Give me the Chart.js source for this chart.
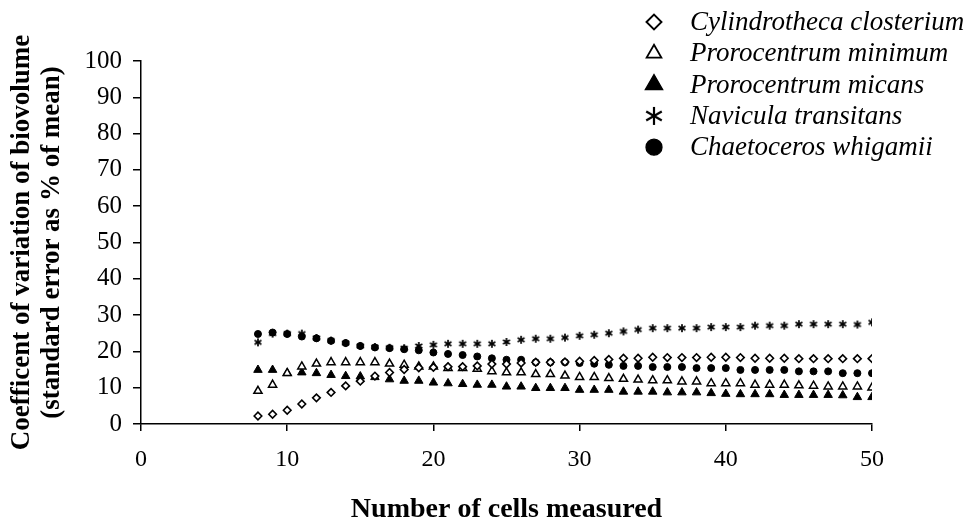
<!DOCTYPE html>
<html>
<head>
<meta charset="utf-8">
<script src="https://cdn.jsdelivr.net/npm/chart.js@4.4.1/dist/chart.umd.min.js"></script>
<style>
  html, body { margin: 0; padding: 0; background: #fff; }
  #wrap { width: 971px; height: 525px; }
</style>
</head>
<body>
<div id="wrap"><canvas id="grafico" width="971" height="525"></canvas></div>
<script>
// Numero de celulas medidas (eje x)
const cells = [8, 9, 10, 11, 12, 13, 14, 15, 16, 17, 18, 19, 20, 21, 22, 23, 24, 25, 26, 27, 28,
  29, 30, 31, 32, 33, 34, 35, 36, 37, 38, 39, 40, 41, 42, 43, 44, 45, 46, 47, 48, 49, 50];

const xTicks = [0, 10, 20, 30, 40, 50];
const yTicks = [0, 10, 20, 30, 40, 50, 60, 70, 80, 90, 100];

const cylindrotheca = [2.2, 2.7, 3.8, 5.5, 7.2, 8.7, 10.5, 11.8, 13.2, 14.2, 15.0, 15.5, 15.6, 15.8, 15.8,
  16.0, 16.5, 16.5, 16.8, 17.0, 17.0, 17.1, 17.3, 17.5, 17.8, 18.1, 18.1, 18.4, 18.3, 18.3, 18.3,
  18.4, 18.4, 18.3, 18.1, 18.1, 18.1, 18.0, 18.0, 18.0, 18.0, 18.0, 18.0];
const prorMinimum = [9.1, 10.8, 14.0, 15.8, 16.6, 17.0, 17.0, 17.0, 17.0, 16.6, 16.3, 15.8, 15.8, 15.4,
  15.4, 15.2, 14.5, 14.2, 14.2, 13.7, 13.7, 13.3, 12.9, 12.9, 12.6, 12.4, 12.2, 12.0, 12.0, 11.7,
  11.7, 11.2, 11.2, 11.2, 10.8, 10.8, 10.8, 10.6, 10.5, 10.3, 10.3, 10.3, 10.0];
const prorMicans = [14.9, 14.9, 14.0, 14.2, 14.0, 13.5, 13.2, 13.1, 12.9, 12.3, 11.9, 11.9, 11.4, 11.2,
  11.0, 10.8, 10.8, 10.3, 10.3, 9.9, 9.9, 9.9, 9.4, 9.4, 9.4, 8.9, 8.9, 8.9, 8.7, 8.7, 8.7, 8.5,
  8.3, 8.2, 8.2, 8.2, 8.0, 8.0, 8.0, 8.0, 7.9, 7.4, 7.4];
const navicula = [22.5, 24.9, 24.9, 24.9, 23.7, 23.0, 22.3, 21.5, 21.2, 21.0, 20.9, 21.5, 21.8, 22.1,
  22.1, 22.1, 22.1, 22.6, 23.2, 23.5, 23.5, 23.8, 24.3, 24.6, 25.0, 25.5, 26.0, 26.4, 26.4, 26.4,
  26.4, 26.7, 26.7, 26.7, 27.1, 27.1, 27.1, 27.5, 27.5, 27.5, 27.5, 27.4, 28.0];
const chaetoceros = [24.8, 25.2, 24.8, 24.1, 23.6, 22.9, 22.3, 21.5, 21.1, 20.9, 20.6, 20.3, 19.7, 19.3,
  19.0, 18.6, 18.1, 17.7, 17.7, 17.0, 17.0, 17.0, 16.8, 16.6, 16.3, 16.0, 16.0, 15.7, 15.7, 15.7,
  15.4, 15.4, 15.4, 14.9, 14.9, 14.9, 14.9, 14.5, 14.5, 14.5, 14.0, 14.0, 14.0];

const labels = ["Cylindrotheca closterium", "Prorocentrum minimum", "Prorocentrum micans",
  "Navicula transitans", "Chaetoceros whigamii"];

const serif = "'Liberation Serif', 'Times New Roman', serif";

function puntos(valores) {
  return cells.map((c, i) => ({ x: c, y: valores[i] }));
}

// asterisco de 6 brazos dibujado en un canvas pequeño
function asterisco(tam, brazo, grosor) {
  const c = document.createElement("canvas");
  c.width = tam;
  c.height = tam;
  const g = c.getContext("2d");
  g.strokeStyle = "#000";
  g.lineWidth = grosor;
  g.lineCap = "butt";
  [90, 30, 150].forEach((a) => {
    const r = (a * Math.PI) / 180;
    g.beginPath();
    g.moveTo(tam / 2 - Math.cos(r) * brazo, tam / 2 - Math.sin(r) * brazo);
    g.lineTo(tam / 2 + Math.cos(r) * brazo, tam / 2 + Math.sin(r) * brazo);
    g.stroke();
  });
  return c;
}
const astChico = asterisco(10, 4, 1.7);
const astGrande = asterisco(22, 9, 2.2);

// estilos de marcador (datos y leyenda)
const estilos = [
  { pointStyle: "rectRot", radius: 3.8, bg: "#fff", border: 1.6, legR: 7.5 },
  { pointStyle: "triangle", radius: 4.7, bg: "#fff", border: 1.5, legR: 8.5 },
  { pointStyle: "triangle", radius: 4.9, bg: "#000", border: 1, legR: 10 },
  { pointStyle: astChico, radius: 4, bg: "#000", border: 1, legR: 9, leg: astGrande },
  { pointStyle: "circle", radius: 3.5, bg: "#000", border: 1, legR: 8 },
];
const series = [cylindrotheca, prorMinimum, prorMicans, navicula, chaetoceros];

const datasets = series.map((vals, i) => ({
  label: labels[i],
  data: puntos(vals),
  showLine: false,
  pointStyle: estilos[i].pointStyle,
  pointRadius: estilos[i].radius,
  pointBackgroundColor: estilos[i].bg,
  pointBorderColor: "#000",
  pointBorderWidth: estilos[i].border,
}));

// Leyenda dibujada a mano (arriba a la derecha)
const leyenda = {
  id: "leyenda",
  afterDraw(chart) {
    const ctx = chart.ctx;
    ctx.save();
    ctx.font = "italic 27px " + serif;
    ctx.textBaseline = "middle";
    ctx.textAlign = "left";
    labels.forEach((lab, i) => {
      const y = 22 + i * 31.3;
      const st = estilos[i];
      ctx.fillStyle = st.bg;
      ctx.strokeStyle = "#000";
      ctx.lineWidth = st.border + 0.3;
      Chart.helpers.drawPoint(ctx, {
        pointStyle: st.leg || st.pointStyle,
        radius: st.legR,
        rotation: 0,
        borderWidth: st.border + 0.3,
      }, 654, y);
      ctx.fillStyle = "#000";
      ctx.fillText(lab, 690, y + 1);
    });
    ctx.restore();
  },
};

const ctx = document.getElementById("grafico").getContext("2d");

new Chart(ctx, {
  type: "scatter",
  data: { datasets: datasets },
  plugins: [leyenda],
  options: {
    responsive: false,
    animation: false,
    layout: { padding: { top: 61, right: 99, left: 0, bottom: 0 } },
    plugins: {
      legend: { display: false },
      tooltip: { enabled: false },
    },
    scales: {
      x: {
        type: "linear",
        min: 0,
        max: 50,
        afterBuildTicks: (s) => { s.ticks = xTicks.map((v) => ({ value: v })); },
        afterFit: (s) => { s.height = 101; },
        border: { color: "#000", width: 1.5 },
        grid: { drawOnChartArea: false, drawTicks: true, tickLength: 7, color: "#000", lineWidth: 1.5 },
        ticks: {
          color: "#000",
          padding: 14,
          font: { family: serif, size: 24, lineHeight: 1.2 },
        },
        title: {
          display: true,
          text: "Number of cells measured",
          color: "#000",
          padding: { top: 0, bottom: 0 },
          font: { family: serif, size: 28, weight: "bold", lineHeight: 1.1 },
        },
      },
      y: {
        min: 0,
        max: 100,
        afterBuildTicks: (s) => { s.ticks = yTicks.map((v) => ({ value: v })); },
        afterFit: (s) => { s.width = 141; },
        border: { color: "#000", width: 1.5 },
        grid: { drawOnChartArea: false, drawTicks: true, tickLength: 8, color: "#000", lineWidth: 1.5 },
        ticks: {
          color: "#000",
          padding: 11,
          font: { family: serif, size: 25 },
        },
        title: {
          display: true,
          text: ["Coefficent of variation of biovolume", "(standard error as % of mean)"],
          color: "#000",
          padding: { top: 7, bottom: 0 },
          font: { family: serif, size: 27, weight: "bold", lineHeight: "30px" },
        },
      },
    },
  },
});
</script>
</body>
</html>
